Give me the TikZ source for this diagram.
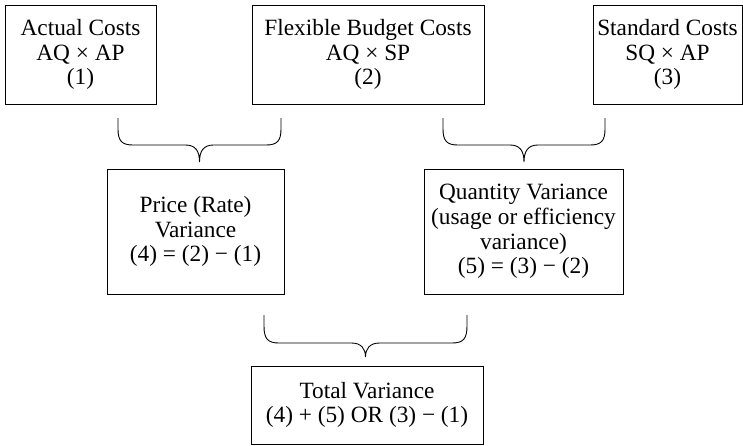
\documentclass[tikz,border=0pt]{standalone}
\usepackage{fontspec}
\setmainfont{Liberation Serif}
\begin{document}
\begin{tikzpicture}[x=1pt,y=1pt,
  box/.style={draw, line width=1pt, inner sep=0pt, align=center,
    font=\fontsize{23.3}{24.7}\selectfont},
  bracestyle/.style={line width=0.9pt}]
\useasboundingbox (0,0) rectangle (743,-445);
\newcommand\cbrace[5]{%
  \pgfmathsetmacro\bm{(#1+#2)/2}%
  \draw[bracestyle] (#1,-#3) -- (#1,-#3-11)
    .. controls (#1,-#4+4) and (#1+4,-#4) .. (#1+15,-#4)
    -- (\bm-14,-#4)
    .. controls (\bm-4,-#4) and (\bm,-#4-6) .. (\bm,-#5)
    .. controls (\bm,-#4-6) and (\bm+4,-#4) .. (\bm+14,-#4)
    -- (#2-15,-#4)
    .. controls (#2-4,-#4) and (#2,-#4+4) .. (#2,-#3-11)
    -- (#2,-#3);}
\node[box, minimum width=151pt, minimum height=99pt] (A) at (80.5,-54.5)
  {Actual Costs\\AQ × AP\\(1)};
\node[box, minimum width=232pt, minimum height=99pt] (B) at (368,-54.5)
  {Flexible Budget Costs\\AQ × SP\\(2)};
\node[box, minimum width=149pt, minimum height=99pt] (C) at (667.5,-54.5)
  {Standard Costs\\SQ × AP\\(3)};
\node[box, minimum width=177pt, minimum height=125pt] (P) at (195.5,-231.5)
  {Price (Rate)\\Variance\\(4) = (2) − (1)};
\node[box, minimum width=199pt, minimum height=125pt] (Q) at (523.5,-231.5)
  {Quantity Variance\\(usage or efficiency\\variance)\\(5) = (3) − (2)};
\node[box, minimum width=232pt, minimum height=78pt] (T) at (367,-405)
  {Total Variance\\(4) + (5) OR (3) − (1)};
\cbrace{118}{281}{118}{145}{162}
\cbrace{443}{605}{118}{145}{162}
\cbrace{264}{467}{315}{343}{357}
\end{tikzpicture}
\end{document}
